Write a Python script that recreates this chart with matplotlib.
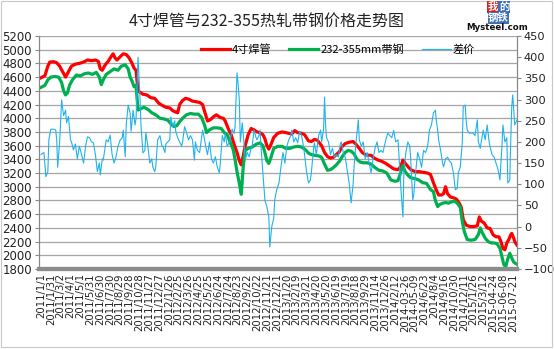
import matplotlib
matplotlib.use("Agg")
import matplotlib.pyplot as plt
from matplotlib.patches import Rectangle
from matplotlib.lines import Line2D

plt.rcParams['font.family'] = ['Noto Sans CJK SC', 'DejaVu Sans']

# ---- data (x = trading-day index, labels every 30 observations) ----
tick_labels = [
    "2011/1/1", "2011/1/31", "2011/3/2", "2011/4/1", "2011/5/1", "2011/5/31",
    "2011/6/30", "2011/7/30", "2011/8/29", "2011/9/28", "2011/10/28", "2011/11/27",
    "2011/12/27", "2012/1/26", "2012/2/25", "2012/3/26", "2012/4/25", "2012/5/25",
    "2012/6/24", "2012/7/24", "2012/8/23", "2012/9/22", "2012/10/22", "2012/11/21",
    "2012/12/21", "2013/1/20", "2013/2/19", "2013/3/21", "2013/4/20", "2013/5/20",
    "2013/6/19", "2013/7/19", "2013/8/18", "2013/9/29", "2013/11/14", "2013/12/26",
    "2014/2/12", "2014-03-26", "2014-05-09", "2014/6/23", "2014/8/4", "2014/9/16",
    "2014/10/30", "2014/12/11", "2015/1/26", "2015/3/12", "2015-04-24", "2015-06-08",
    "2015-07-21",
]
tick_step = 30

pipe_idx = [0, 12, 21, 27, 39, 48, 57, 66, 75, 84, 93, 105, 117, 130, 142, 154, 166, 175,
            181, 187, 196, 205, 214, 220, 226, 232, 242, 251, 260, 269, 278, 284, 290, 296,
            302, 311, 323, 335, 347, 359, 369, 381, 393, 402, 411, 417, 423, 432, 441, 450,
            462, 474, 484, 493, 499, 508, 517, 526, 535, 547, 556, 562, 571, 580, 589, 598,
            605, 611, 617, 623, 632, 641, 650, 659, 668, 677, 683, 689, 695, 701, 710, 722,
            735, 747, 756, 765, 774, 783, 795, 804, 816, 825, 834, 843, 856, 865, 874, 883,
            892, 901, 910, 919, 928, 940, 952, 961, 971, 980, 989, 998, 1007, 1016, 1028,
            1040, 1052, 1064, 1076, 1089, 1098, 1104, 1113, 1122, 1131, 1143, 1155, 1167,
            1179, 1188, 1197, 1206, 1213, 1222, 1228, 1234, 1240, 1249, 1258, 1267, 1276,
            1282, 1288, 1297, 1309, 1321, 1331, 1337, 1343, 1352, 1361, 1370, 1379, 1388,
            1397, 1403, 1409, 1415, 1421, 1427, 1433, 1436, 1442, 1445, 1452]
pipe_val = [4590, 4620, 4760, 4820, 4825, 4810, 4760, 4680, 4600, 4680, 4760, 4790, 4800,
            4820, 4850, 4840, 4850, 4830, 4720, 4700, 4780, 4830, 4900, 4940, 4880, 4850,
            4900, 4940, 4930, 4880, 4800, 4730, 4700, 4400, 4380, 4350, 4340, 4300, 4290,
            4220, 4190, 4160, 4150, 4110, 4090, 4080, 4200, 4260, 4290, 4280, 4250, 4240,
            4230, 4200, 4100, 3960, 3980, 4020, 4050, 4010, 4000, 3960, 3850, 3760, 3620,
            3500, 3380, 3320, 3450, 3600, 3760, 3850, 3830, 3800, 3790, 3760, 3700, 3600,
            3550, 3610, 3720, 3780, 3800, 3790, 3780, 3770, 3820, 3790, 3780, 3760, 3670,
            3660, 3690, 3680, 3600, 3500, 3440, 3420, 3430, 3470, 3510, 3590, 3630, 3650,
            3660, 3620, 3560, 3500, 3470, 3460, 3460, 3420, 3390, 3370, 3340, 3300, 3260,
            3250, 3300, 3390, 3330, 3280, 3240, 3220, 3220, 3210, 3200, 3180, 3060, 2950,
            2880, 2880, 2900, 3000, 2900, 2850, 2840, 2820, 2760, 2700, 2520, 2440, 2420,
            2420, 2430, 2560, 2500, 2470, 2400, 2390, 2300, 2270, 2270, 2200, 2100, 2080,
            2180, 2230, 2300, 2320, 2250, 2200, 2150]

strip_idx = [0, 12, 21, 30, 42, 54, 63, 69, 75, 81, 87, 96, 108, 121, 133, 145, 157, 169,
             178, 184, 190, 199, 211, 223, 235, 245, 257, 266, 272, 278, 284, 290, 296, 305,
             314, 326, 338, 350, 363, 375, 387, 396, 405, 414, 423, 432, 444, 456, 468, 480,
             490, 499, 505, 514, 526, 538, 550, 559, 568, 577, 586, 592, 598, 605, 611, 617,
             623, 632, 644, 656, 668, 677, 683, 689, 695, 701, 710, 722, 735, 747, 759, 771,
             783, 795, 807, 816, 825, 834, 847, 856, 865, 874, 883, 892, 901, 910, 919, 928,
             937, 946, 955, 964, 974, 983, 995, 1007, 1019, 1031, 1043, 1055, 1067, 1080,
             1089, 1098, 1104, 1110, 1119, 1128, 1140, 1152, 1164, 1176, 1188, 1197, 1203,
             1210, 1216, 1225, 1234, 1243, 1252, 1261, 1270, 1279, 1285, 1291, 1300, 1312,
             1324, 1334, 1340, 1346, 1355, 1364, 1373, 1382, 1391, 1400, 1406, 1412, 1418,
             1424, 1430, 1436, 1442, 1448, 1452]
strip_val = [4450, 4480, 4560, 4600, 4610, 4600, 4520, 4400, 4340, 4370, 4480, 4560, 4630,
             4620, 4650, 4660, 4640, 4670, 4600, 4490, 4560, 4640, 4680, 4720, 4700, 4760,
             4780, 4720, 4600, 4540, 4460, 4480, 4120, 4140, 4160, 4130, 4080, 4050, 4000,
             3990, 3970, 3920, 3880, 3890, 3950, 4000, 4050, 4070, 4060, 4060, 4010, 3900,
             3790, 3830, 3860, 3860, 3850, 3790, 3760, 3650, 3550, 3400, 3220, 3050, 2890,
             3300, 3530, 3560, 3580, 3620, 3640, 3600, 3500, 3380, 3340, 3420, 3560, 3590,
             3590, 3560, 3560, 3580, 3590, 3580, 3540, 3490, 3470, 3460, 3450, 3430, 3330,
             3240, 3250, 3280, 3320, 3370, 3440, 3500, 3530, 3520, 3480, 3400, 3360, 3350,
             3350, 3330, 3280, 3240, 3230, 3200, 3100, 3080, 3090, 3220, 3310, 3230, 3170,
             3130, 3120, 3100, 3060, 3050, 2960, 2930, 2800, 2710, 2740, 2760, 2770, 2760,
             2780, 2790, 2760, 2700, 2500, 2350, 2230, 2220, 2230, 2300, 2400, 2330, 2250,
             2200, 2180, 2180, 2170, 2100, 1980, 1860, 1840, 1950, 2030, 1960, 1900, 1880,
             1870]

spread_idx = [0, 9, 15, 21, 24, 30, 39, 45, 48, 51, 57, 60, 63, 69, 75, 78, 84, 90, 93, 99,
              105, 111, 117, 124, 130, 136, 142, 148, 154, 160, 166, 172, 178, 181, 187, 190,
              196, 199, 205, 211, 217, 223, 229, 235, 242, 248, 251, 257, 260, 266, 272, 275,
              281, 287, 290, 296, 302, 305, 311, 317, 320, 326, 332, 338, 341, 347, 350, 356,
              363, 369, 372, 378, 381, 387, 393, 396, 402, 408, 411, 417, 423, 429, 432, 438,
              444, 450, 456, 462, 468, 471, 477, 484, 490, 493, 499, 505, 508, 514, 520, 526,
              532, 538, 544, 547, 553, 559, 562, 568, 574, 580, 583, 589, 592, 598, 601, 605,
              608, 614, 620, 623, 629, 635, 641, 644, 650, 656, 659, 665, 668, 674, 680, 683,
              689, 695, 698, 704, 710, 713, 719, 726, 732, 738, 744, 750, 756, 762, 765, 771,
              777, 783, 789, 795, 801, 804, 810, 816, 822, 825, 831, 834, 840, 847, 853, 856,
              862, 865, 868, 871, 877, 883, 889, 895, 901, 907, 913, 916, 922, 928, 934, 940,
              946, 952, 955, 961, 968, 971, 977, 983, 989, 995, 1001, 1007, 1013, 1019, 1025,
              1031, 1037, 1043, 1052, 1058, 1064, 1070, 1076, 1082, 1089, 1095, 1098, 1104,
              1107, 1113, 1119, 1125, 1128, 1134, 1137, 1143, 1149, 1155, 1161, 1167, 1173,
              1179, 1185, 1191, 1197, 1203, 1206, 1210, 1213, 1219, 1225, 1228, 1234, 1240,
              1246, 1252, 1258, 1264, 1270, 1273, 1279, 1285, 1288, 1294, 1297, 1300, 1306,
              1312, 1318, 1324, 1331, 1334, 1340, 1343, 1349, 1355, 1361, 1367, 1370, 1376,
              1382, 1388, 1394, 1400, 1406, 1409, 1415, 1421, 1424, 1430, 1433, 1436, 1439,
              1445, 1452]
spread_val = [170, 175, 118, 130, 205, 230, 230, 228, 205, 140, 200, 252, 299, 262, 275, 245,
              260, 205, 200, 181, 195, 160, 190, 170, 150, 190, 212, 210, 200, 198, 170, 130,
              150, 122, 160, 157, 190, 205, 200, 216, 170, 150, 165, 190, 205, 210, 228, 165,
              240, 287, 268, 225, 275, 240, 255, 400, 306, 240, 174, 180, 222, 190, 150, 160,
              141, 130, 140, 205, 215, 190, 190, 175, 195, 200, 205, 259, 236, 250, 225, 210,
              200, 190, 200, 236, 222, 205, 215, 205, 157, 200, 180, 175, 210, 228, 205, 180,
              170, 200, 160, 150, 165, 140, 127, 150, 215, 200, 220, 190, 198, 215, 230, 220,
              236, 363, 340, 300, 200, 245, 190, 157, 175, 165, 185, 190, 228, 210, 205, 215,
              228, 157, 94, 63, 47, 23, -48, 0, 20, 63, 87, 103, 141, 175, 150, 190, 205, 215,
              228, 200, 210, 198, 225, 215, 188, 170, 130, 103, 110, 130, 180, 198, 170, 215,
              228, 200, 230, 306, 240, 210, 200, 170, 185, 164, 170, 164, 195, 200, 175, 164,
              134, 103, 56, 100, 140, 200, 252, 205, 190, 200, 160, 175, 150, 127, 160, 185,
              200, 175, 180, 175, 205, 221, 215, 210, 227, 200, 205, 130, 87, 23, 130, 175,
              200, 190, 157, 63, 75, 130, 175, 160, 140, 180, 175, 188, 228, 240, 268, 275,
              250, 228, 205, 180, 150, 141, 160, 164, 155, 150, 127, 87, 90, 127, 141, 198,
              283, 287, 250, 228, 221, 221, 221, 215, 252, 200, 185, 200, 228, 205, 240, 200,
              188, 170, 164, 150, 135, 110, 190, 240, 200, 210, 103, 110, 205, 283, 311, 240,
              252]

series_names = ["4寸焊管", "232-355mm带钢", "差价"]
series_colors = ["#FF0000", "#00B050", "#1EB4EC"]

# ---- figure ----
fig = plt.figure(figsize=(5.54, 3.49), dpi=100)
fig.patches.append(Rectangle((0.002, 0.006), 0.994, 0.99, transform=fig.transFigure,
                             fill=False, edgecolor="#C8C8C8", linewidth=0.8))
ax = fig.add_axes([39 / 554, 1 - 269 / 349, 478 / 554, 233 / 349])
ax2 = ax.twinx()

ax.set_xlim(-6, 1452)
ax.set_ylim(1800, 5200)
ax.set_yticks(range(1800, 5201, 200))
ax.yaxis.grid(True, color="#A6A6A6", linewidth=0.9)
ax.set_axisbelow(True)

ax2.set_ylim(-100, 450)
ax2.set_yticks(range(-100, 451, 50))

ax.plot(pipe_idx, pipe_val, color=series_colors[0], linewidth=2.3, solid_joinstyle="round", zorder=3)
ax.plot(strip_idx, strip_val, color=series_colors[1], linewidth=2.3, solid_joinstyle="round", zorder=3)
ax2.plot(spread_idx, spread_val, color=series_colors[2], linewidth=0.8, zorder=4)

ax.set_xticks([i * tick_step for i in range(len(tick_labels))])
ax.set_xticklabels(tick_labels, rotation=90, fontsize=7.3, family="DejaVu Sans",
                   va="top", ha="center", color="#222222")
ax.tick_params(axis="x", length=0, pad=3)
ax.tick_params(axis="y", labelsize=8.5, length=3, color="#888888", pad=2, labelcolor="#222222")
ax2.tick_params(axis="y", labelsize=8.2, length=3, color="#888888", pad=2, labelcolor="#222222")
for lab in ax.get_yticklabels() + ax2.get_yticklabels():
    lab.set_family("DejaVu Sans")

for a in (ax, ax2):
    a.spines["top"].set_visible(False)
    a.spines["left"].set_color("#888888")
    a.spines["right"].set_color("#888888")
    a.spines["bottom"].set_color("#8C8C8C")
    a.spines["bottom"].set_linewidth(3)

# title
fig.text(267 / 554, 1 - 22 / 349, "4寸焊管与232-355热轧带钢价格走势图",
         ha="center", va="center", fontsize=11.5, color="#222222")

# legend
handles = [Line2D([], [], color=c, linewidth=lw) for c, lw in zip(series_colors, [2.3, 2.3, 0.8])]
fig.legend(handles, series_names, loc="center", bbox_to_anchor=(338 / 554, 1 - 50 / 349),
           ncol=3, frameon=False, fontsize=8, handlelength=2.6, handletextpad=0.2,
           columnspacing=1.6)

# logo
logo_kw = dict(ha="center", va="center", fontsize=7.5, color="white", fontweight="bold")
fig.text(493 / 554, 1 - 7 / 349, "我",
         bbox=dict(boxstyle="square,pad=0.05", fc="#D42020", ec="none"), **logo_kw)
fig.text(504 / 554, 1 - 7 / 349, "的",
         bbox=dict(boxstyle="square,pad=0.05", fc="#3C6FB5", ec="none"), **logo_kw)
fig.text(498.5 / 554, 1 - 18 / 349, "钢铁",
         bbox=dict(boxstyle="square,pad=0.05", fc="#3C6FB5", ec="none"), **logo_kw)
fig.text(497 / 554, 1 - 28 / 349, "Mysteel.com", ha="center", va="center", fontsize=6.2,
         fontweight="bold", color="#111111", family="DejaVu Sans")

fig.savefig("out.png", dpi=100)
